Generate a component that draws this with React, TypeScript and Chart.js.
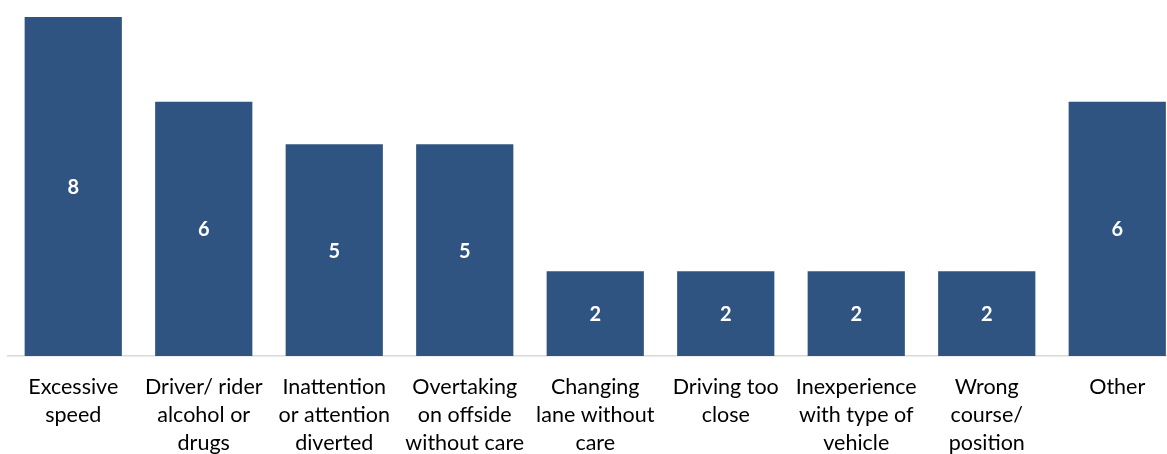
import React, { useEffect, useRef } from "react";
import { Chart, registerables } from "chart.js";

Chart.register(...registerables);

const categories: string[][] = [
  ["Excessive", "speed"],
  ["Driver/ rider", "alcohol or", "drugs"],
  ["Inattention", "or attention", "diverted"],
  ["Overtaking", "on offside", "without care"],
  ["Changing", "lane without", "care"],
  ["Driving too", "close"],
  ["Inexperience", "with type of", "vehicle"],
  ["Wrong", "course/", "position"],
  ["Other"],
];
const values: number[] = [8, 6, 5, 5, 2, 2, 2, 2, 6];

const BAR_COLOR = "#2F5481";
const FONT = "Lato, 'Open Sans', sans-serif";

const valueLabels = {
  id: "valueLabels",
  afterDatasetsDraw(chart: any) {
    const ctx = chart.ctx;
    const meta = chart.getDatasetMeta(0);
    ctx.save();
    ctx.fillStyle = "#ffffff";
    ctx.font = `bold 20px ${FONT}`;
    ctx.textAlign = "center";
    ctx.textBaseline = "middle";
    meta.data.forEach((bar: any, i: number) => {
      const y = (bar.y + bar.base) / 2 + 1;
      ctx.fillText(String(values[i]), bar.x, y);
    });
    ctx.restore();
  },
};

export default function App() {
  const ref = useRef<HTMLCanvasElement | null>(null);
  useEffect(() => {
    if (!ref.current) return;
    const chart = new Chart(ref.current, {
      type: "bar",
      data: {
        labels: categories,
        datasets: [
          {
            data: values,
            backgroundColor: BAR_COLOR,
            borderWidth: 0,
            categoryPercentage: 1,
            barPercentage: 0.745,
          },
        ],
      },
      options: {
        animation: false,
        responsive: false,
        maintainAspectRatio: false,
        layout: { padding: { left: 8, right: 7.5, top: 17, bottom: 0 } },
        plugins: {
          legend: { display: false },
          tooltip: { enabled: false },
        },
        scales: {
          x: {
            grid: { display: false, drawTicks: false },
            border: { display: true, color: "#d9d9d9", width: 1.5 },
            ticks: {
              autoSkip: false,
              maxRotation: 0,
              minRotation: 0,
              padding: 17,
              color: "#000000",
              font: { family: FONT, size: 21.5, lineHeight: 1.3 },
            },
            afterFit: (scale: any) => {
              scale.height = 124;
            },
          },
          y: {
            display: false,
            min: 0,
            max: 8,
          },
        },
      },
      plugins: [valueLabels],
    });
    return () => chart.destroy();
  }, []);
  return (
    <div
      style={{
        position: "fixed",
        left: 0,
        top: 0,
        width: 1167,
        height: 454,
        overflow: "hidden",
        background: "#ffffff",
      }}
    >
      <canvas ref={ref} width={1190} height={480} style={{ display: "block" }} />
    </div>
  );
}
